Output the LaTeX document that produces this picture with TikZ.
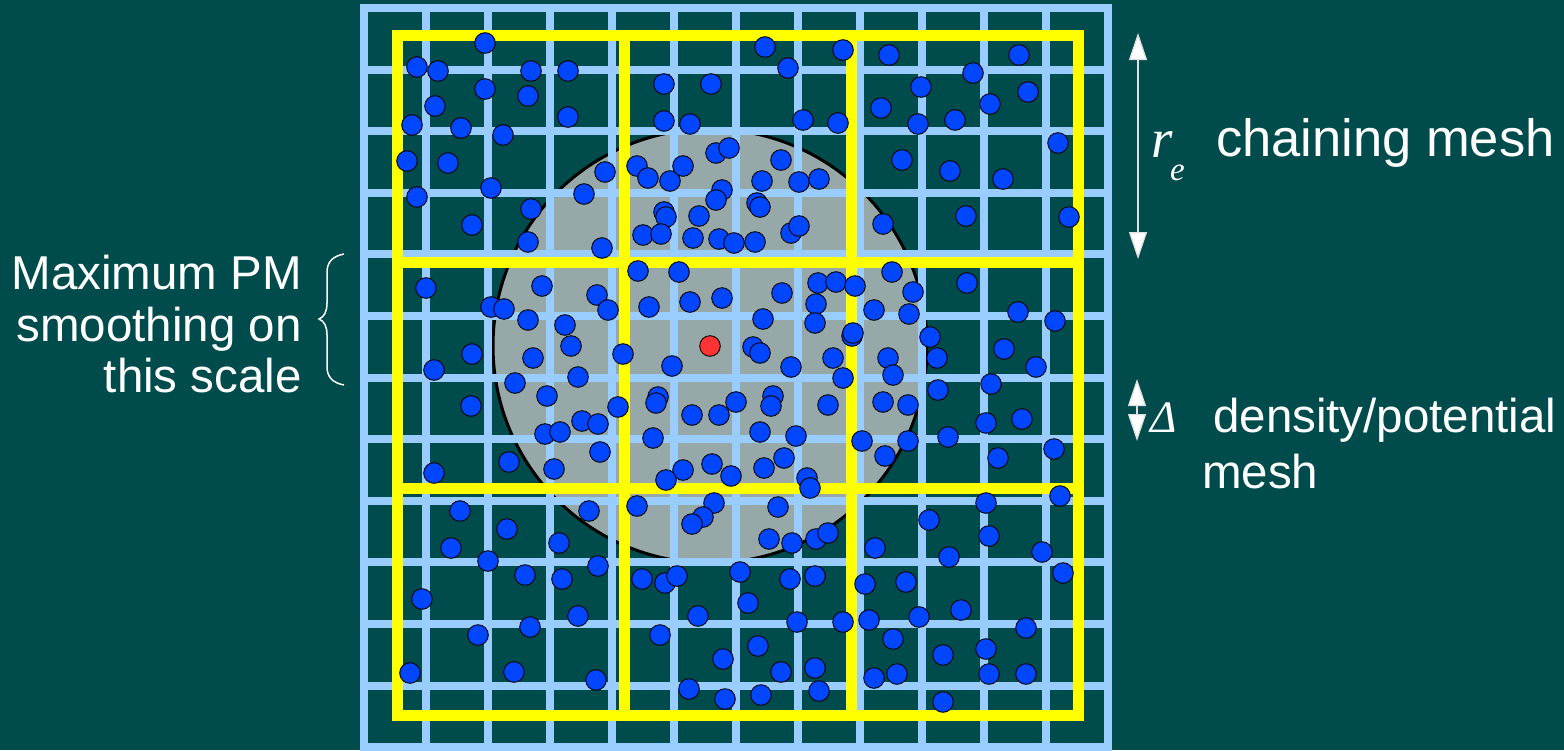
\documentclass[tikz,border=0pt]{standalone}
\usepackage{fontspec}
\setmainfont{Liberation Sans}
\newfontfamily\serifit{Liberation Serif}
\usetikzlibrary{arrows.meta}
\definecolor{bgteal}{RGB}{0,76,76}
\definecolor{gridblue}{RGB}{153,204,255}
\definecolor{disc}{RGB}{150,168,168}
\definecolor{dotblue}{RGB}{0,70,255}
\definecolor{dotred}{RGB}{255,51,51}
\definecolor{meshyellow}{RGB}{255,255,0}
\tikzset{
  gridline/.style={draw=gridblue, line width=8pt},
  yelline/.style={draw=meshyellow, line width=11pt},
  particle/.style={fill=dotblue, draw=black, line width=0.9pt},
  redparticle/.style={fill=dotred, draw=black, line width=0.9pt},
  label/.style={text=white, inner sep=0pt, font=\fontsize{47.5}{56}\selectfont},
  dimarrow/.style={draw=white!88!black, line width=1.3pt, {Triangle[width=18pt,length=27pt,fill=white]}-{Triangle[width=18pt,length=27pt,fill=white]}},
  bracestyle/.style={draw=white, line width=1.5pt}
}
\begin{document}
\begin{tikzpicture}[x=1pt,y=-1pt]
\useasboundingbox (0,0) rectangle (1564,750);
\fill[bgteal] (0,0) rectangle (1564,750);
% smoothing disc
\coordinate (centre) at (710,346);
\filldraw[fill=disc, draw=black, line width=3pt] (centre) circle (217pt);
% density/potential mesh
\foreach \i in {0,...,12} {
  \draw[gridline] ({364+62*\i},4) -- ({364+62*\i},754);
}
\foreach \j in {0,...,12} {
  \draw[gridline] (360,{8+61.6*\j}) -- (1112,{8+61.6*\j});
}
% chaining mesh
\draw[yelline] (397,35) rectangle (1078,715);
\draw[yelline] (624,35) -- (624,715);
\draw[yelline] (851,35) -- (851,715);
\draw[yelline] (397,262) -- (1078,262);
\draw[yelline] (397,488) -- (1078,488);
% particles
\foreach \p in {
(485,43),(417,67),(438,71),(531,71),(568,71),(485,89),(528,96),(435,106),(412,125),(461,128),(503,135),(568,117),(407,161),(448,163),(417,197),(491,188),(472,225),(531,209),(528,242),(605,172),(584,194),(602,248),
(664,84),(711,84),(664,121),(690,124),(637,166),(648,178),(670,181),(683,166),(716,153),(729,148),(722,190),(716,200),(664,212),(666,217),(699,216),(643,235),(661,234),(693,238),(719,239),(734,243),(765,47),(788,68),(843,50),(803,120),(838,123),(781,160),(762,181),(799,182),(819,179),(757,203),(760,207),(755,242),(791,233),(799,226),
(889,55),(921,87),(973,73),(1019,55),(1028,92),(990,104),(881,108),(918,124),(955,120),(1058,143),(902,160),(950,171),(1003,179),(883,224),(966,216),(1069,217),
(426,288),(491,307),(504,309),(542,286),(597,295),(608,310),(528,320),(565,325),(571,346),(533,358),(472,354),(434,370),(515,383),(578,377),(547,396),(471,406),(623,354),(618,407),(582,421),(598,424),(545,434),(560,432),(600,452),(509,462),(434,473),(554,469),
(638,271),(679,272),(649,307),(690,302),(722,298),(782,293),(763,319),(818,283),(836,282),(855,286),(816,304),(815,323),(852,336),(753,347),(760,353),(672,366),(791,367),(833,358),(843,378),(658,397),(656,403),(692,415),(719,415),(736,402),(773,396),(771,406),(828,405),(653,438),(760,432),(796,436),(784,458),(683,470),(712,464),(731,476),(764,468),(666,480),(807,478),(810,488),
(892,272),(913,292),(874,310),(909,314),(853,333),(930,337),(967,283),(1018,312),(1055,321),(1004,349),(1036,367),(888,358),(893,375),(937,358),(991,384),(938,390),(883,402),(908,405),(986,423),(1022,419),(862,441),(908,441),(948,437),(885,456),(998,458),(1054,449),(1060,496),
(460,511),(507,529),(451,548),(488,561),(559,543),(525,575),(562,579),(598,566),(422,599),(478,635),(530,627),(578,616),(410,673),(514,672),(596,680),(589,511),(637,506),
(714,503),(703,517),(692,524),(642,579),(665,583),(677,576),(740,572),(748,603),(660,635),(698,616),(723,659),(689,689),(725,699),(778,507),(769,539),(792,543),(816,539),(828,533),(790,579),(815,576),(797,622),(843,622),(758,646),(781,672),(815,668),(761,695),(819,691),
(986,503),(929,520),(989,536),(875,548),(949,557),(1042,552),(1063,573),(865,584),(906,582),(961,610),(869,620),(919,617),(1026,628),(893,639),(986,649),(943,655),(874,678),(897,674),(989,674),(1026,674),(943,702)
} {
  \filldraw[particle] \p circle (10.3pt);
}
\filldraw[redparticle] (centre) circle (10.3pt);
% left label and brace
\node[label, anchor=base east] (l1) at (302,289) {Maximum PM};
\node[label, anchor=base east] (l2) at (302,341) {smoothing on};
\node[label, anchor=base east] (l3) at (302,392) {this scale};
\draw[bracestyle] (344,254) .. controls (333,256) and (327,262) .. (327,272) -- (327,303) .. controls (327,312) and (324,317) .. (319,319) .. controls (324,321) and (327,326) .. (327,335) -- (327,367) .. controls (327,377) and (333,383) .. (344,385);
% right annotations
\coordinate (retop) at (1138,33);
\coordinate (rebot) at (1138,259);
\draw[dimarrow] (retop) -- (rebot);
\node[text=white, inner sep=0pt, anchor=base west, font=\serifit\itshape\fontsize{55}{60}\selectfont] (r) at (1151,157) {r};
\node[text=white, inner sep=0pt, anchor=base west, font=\serifit\itshape\fontsize{33}{36}\selectfont] (e) at (1170,180) {e};
\node[text=white, inner sep=0pt, anchor=base west, font=\fontsize{52.5}{60}\selectfont] (chain) at (1216,156) {chaining mesh};
\coordinate (dtop) at (1137,379);
\coordinate (dbot) at (1137,441);
\draw[dimarrow] (dtop) -- (dbot);
\node[text=white, inner sep=0pt, anchor=base west, font=\serifit\itshape\fontsize{45}{50}\selectfont] (delta) at (1150,432) {Δ};
\node[label, anchor=base west] (dens) at (1213,432) {density/potential};
\node[label, anchor=base west] (mesh) at (1202,488) {mesh};
\end{tikzpicture}
\end{document}
